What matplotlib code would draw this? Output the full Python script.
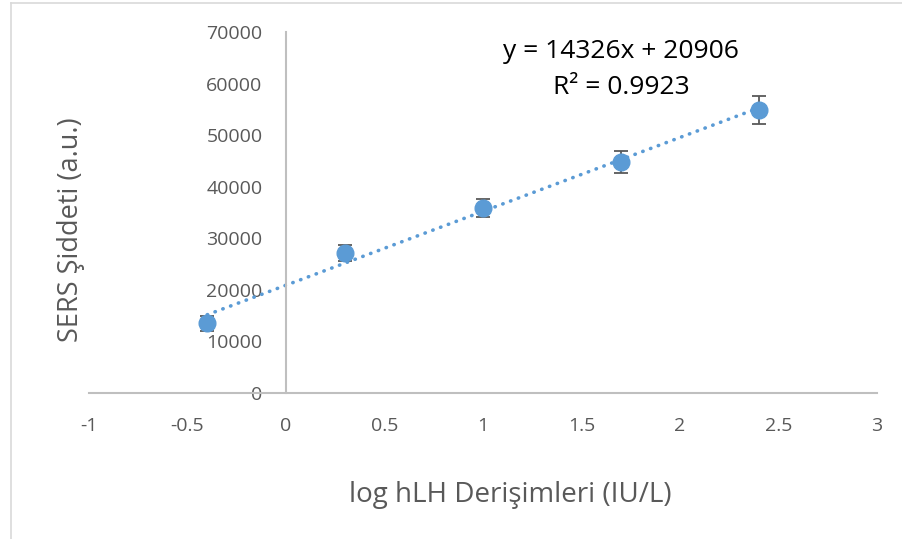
import numpy as np
import matplotlib.pyplot as plt
from matplotlib.lines import Line2D

plt.rcParams['font.family'] = ['Open Sans', 'DejaVu Sans']

# data
log_conc = [-0.4, 0.3, 1.0, 1.7, 2.4]
sers = [13500, 27150, 35900, 44800, 54900]
sers_err = [1500, 1550, 1750, 2200, 2700]

# linear trend line (Excel style)
slope, intercept = 14326, 20906
r2 = 0.9923

blue = '#5B9BD5'
axis_gray = '#BFBFBF'
text_gray = '#595959'

fig = plt.figure(figsize=(9.03, 5.39), dpi=100)
ax = fig.add_axes([0.0986, 0.2709, 0.8727, 0.6697])

# trendline
xt = np.array([min(log_conc), max(log_conc)])
ax.plot(xt, slope * xt + intercept, color=blue, lw=2.6,
        linestyle=(0, (0.1, 2.2)), dash_capstyle='round', zorder=2)

# points with error bars
ax.errorbar(log_conc, sers, yerr=sers_err, fmt='o', color=blue, ms=12,
            ecolor=text_gray, elinewidth=1.3, capsize=5, capthick=1.3, zorder=3)

ax.set_xlim(-1, 3)
ax.set_ylim(0, 70000)
ax.set_xticks(np.arange(-1, 3.01, 0.5))
ax.set_xticklabels(['-1', '-0.5', '0', '0.5', '1', '1.5', '2', '2.5', '3'])
ax.set_yticks(np.arange(0, 70001, 10000))

for s in ['top', 'right']:
    ax.spines[s].set_visible(False)
ax.spines['left'].set_position(('data', 0))
ax.spines['left'].set_color(axis_gray)
ax.spines['bottom'].set_color(axis_gray)
ax.spines['left'].set_linewidth(1.5)
ax.spines['bottom'].set_linewidth(1.5)

ax.tick_params(axis='both', length=0, labelsize=14, labelcolor=text_gray)
ax.tick_params(axis='y', pad=17)
ax.tick_params(axis='x', pad=17)

ax.set_xlabel('log hLH Derişimleri (IU/L)', fontsize=20, color=text_gray)
ax.set_ylabel('SERS Şiddeti (a.u.)', fontsize=19.5, color=text_gray)
ax.xaxis.set_label_coords(510 / 903, 1 - 495 / 539, transform=fig.transFigure)
ax.xaxis.label.set_va('center')
ax.yaxis.set_label_coords(71 / 903, 1 - 230 / 539, transform=fig.transFigure)
ax.yaxis.label.set_va('center')

# equation
fig.text(621 / 903, 1 - 52 / 539, 'y = %dx + %d' % (slope, intercept),
         ha='center', va='center', fontsize=19, color='black')
fig.text(621 / 903, 1 - 87 / 539, 'R² = %.4f' % r2,
         ha='center', va='center', fontsize=19, color='black')

# chart area border
frame = '#D9D9D9'
fig.add_artist(Line2D([11 / 903, 11 / 903], [0, 1 - 3 / 539], color=frame, lw=1.2))
fig.add_artist(Line2D([11 / 903, 1], [1 - 3 / 539, 1 - 3 / 539], color=frame, lw=1.2))

fig.savefig('out.png', dpi=100)
